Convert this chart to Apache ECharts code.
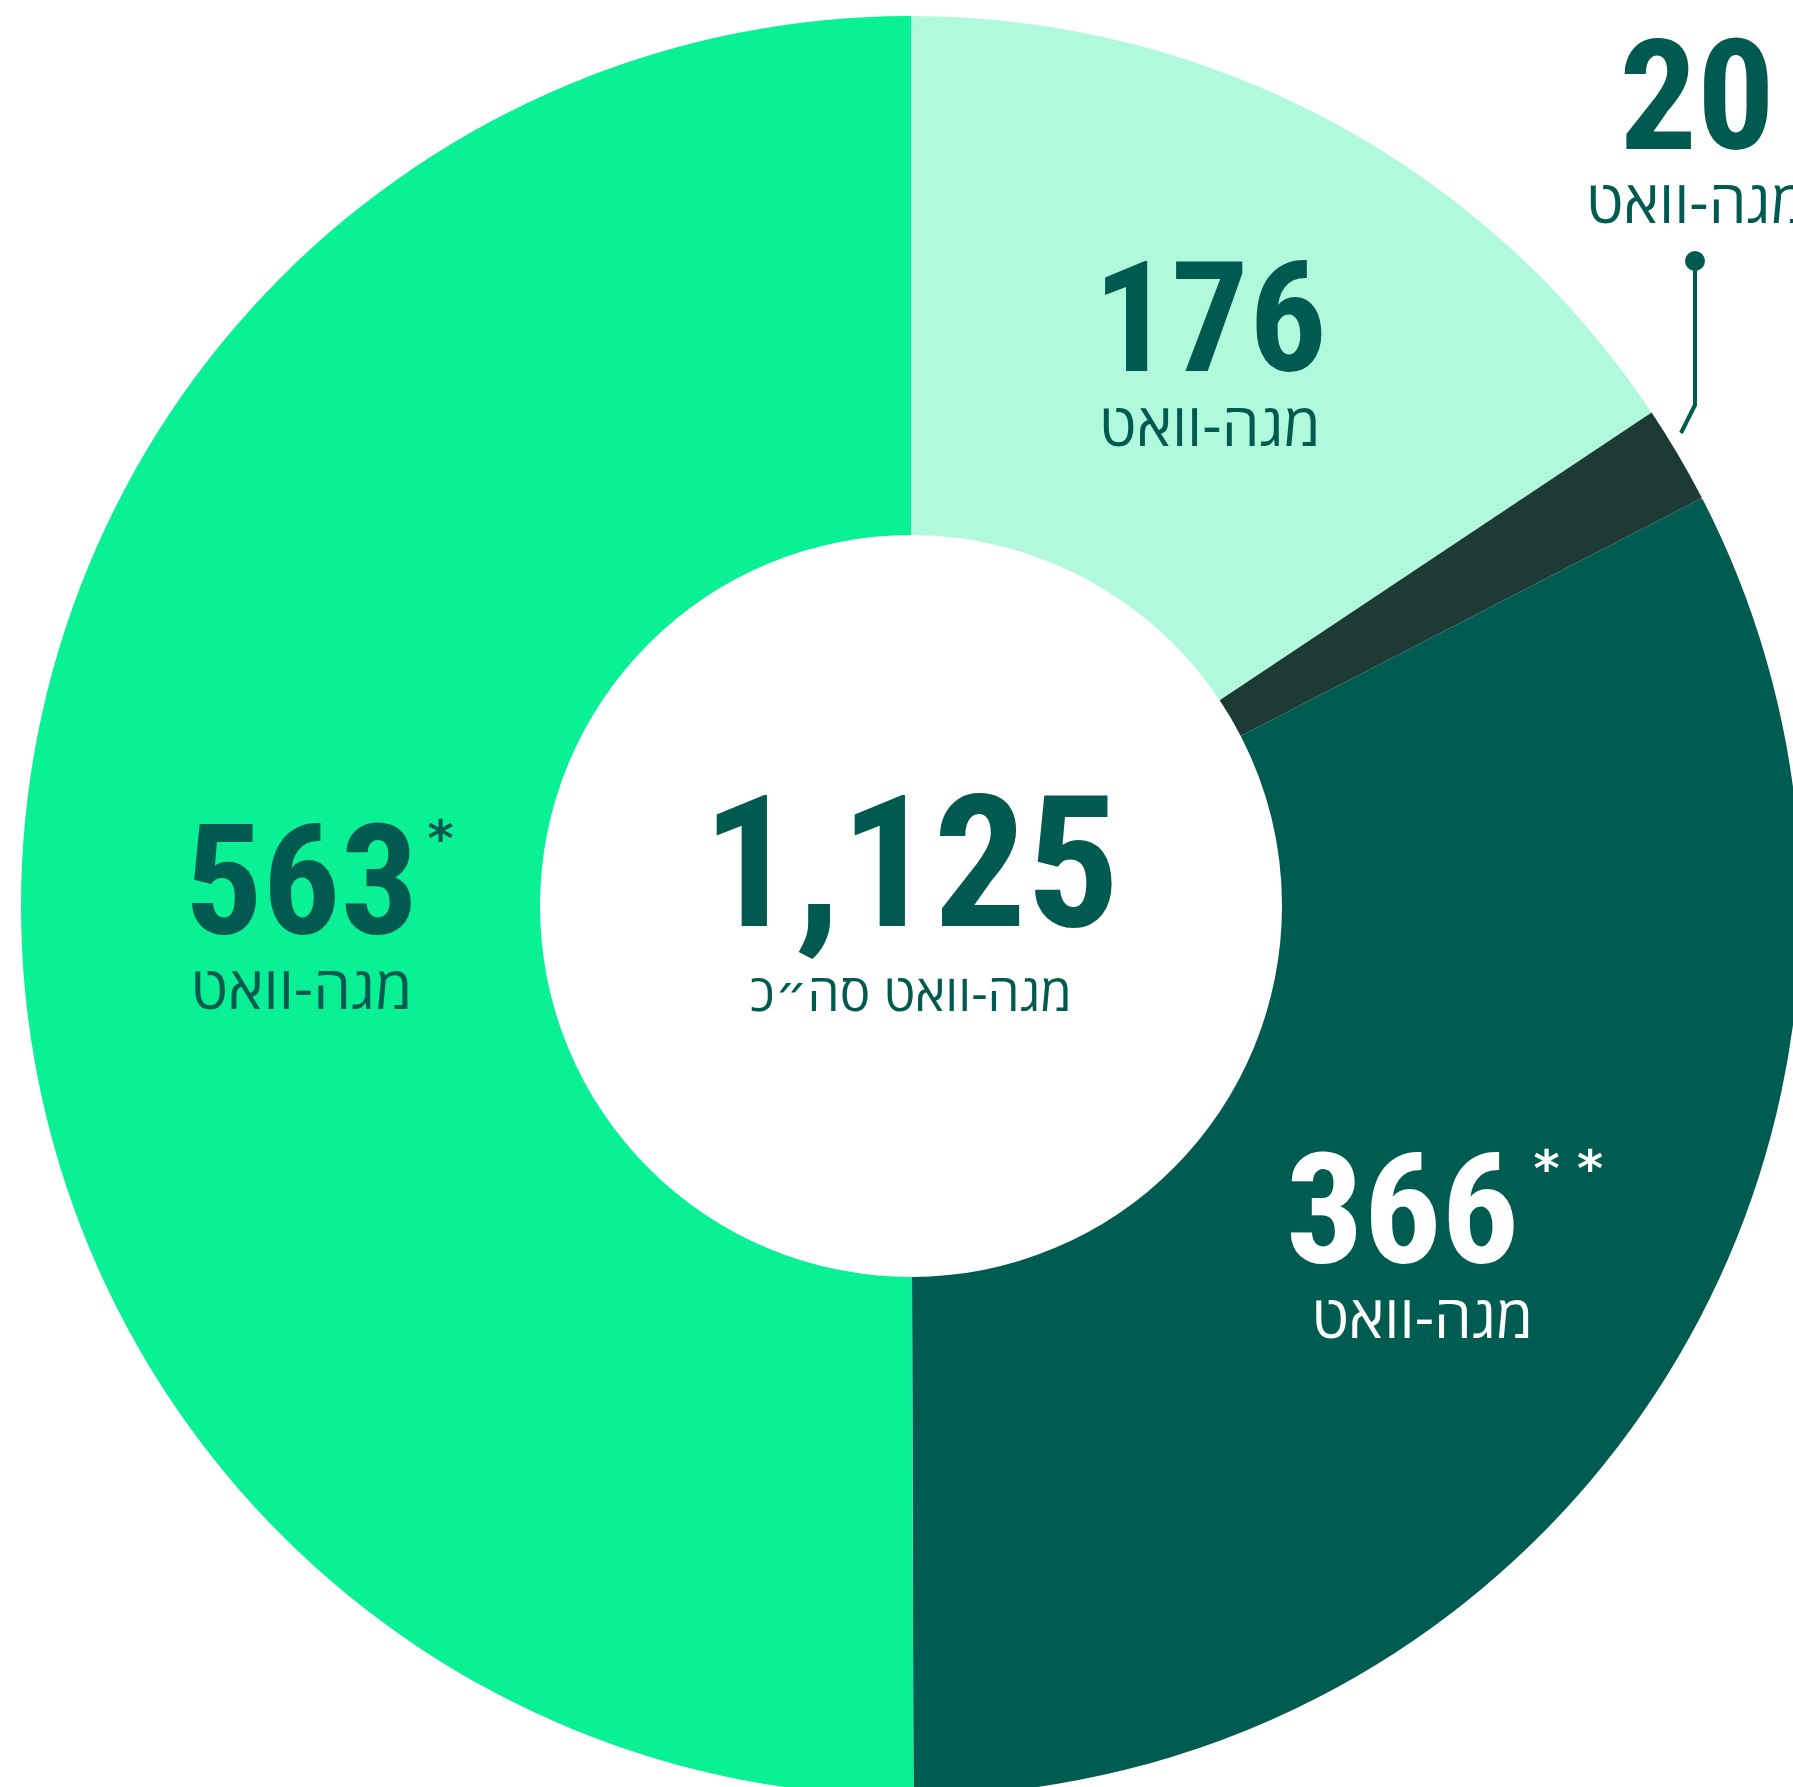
<!DOCTYPE html>
<html><head><meta charset="utf-8">
<script src="https://cdn.jsdelivr.net/npm/echarts@6/dist/echarts.min.js"></script>
<style>html,body{margin:0;padding:0;background:#fff}#c{width:1793px;height:1787px}</style>
</head><body><div id="c"></div>
<script>
// ---- data ----
const segmentIds = ['s1', 's2', 's3', 's4'];
const values = [176, 20, 366, 563];
const marks = ['', '', '**', '*'];
const unitText = 'מגה-וואט';
const totalText = 'מגה-וואט סה״כ';

// ---- style ----
const sliceColors = ['#b0f9dc', '#1d3a35', '#005c50', '#0af094'];
const labelColors = ['#005a4f', '#005a4f', '#ffffff', '#005a4f'];
const unitNudge = [false, false, true, false];
const ink = '#005a4f';
const numFont = '"Roboto Condensed", "DejaVu Sans Condensed", Roboto, sans-serif';
const hebFont = '"Open Sans", "DejaVu Sans", sans-serif';

const total = values.reduce((a, b) => a + b, 0);
const totalStr = total.toLocaleString('en-US');

const rich = {
  num: { fontFamily: numFont, fontSize: 154, fontWeight: 'bold', lineHeight: 130 },
  unit: { fontFamily: hebFont, fontSize: 60, lineHeight: 62 },
  upad: { width: 40 }
};

const data = values.map((v, i) => {
  const item = {
    name: segmentIds[i], value: v,
    itemStyle: { color: sliceColors[i] },
    label: { color: labelColors[i] }
  };
  if (i === 1) {
    item.label.position = 'outside';
    item.labelLine = { show: true, lineStyle: { color: ink, width: 4 } };
  }
  return item;
});

// footnote marks, laid out on the same slices
const markData = values.map((v, i) => ({
  name: segmentIds[i], value: v,
  itemStyle: { color: 'rgba(0,0,0,0)' },
  label: { show: !!marks[i], color: labelColors[i] }
}));

const chart = echarts.init(document.getElementById('c'), null, { renderer: 'canvas' });
chart.setOption({
  backgroundColor: '#ffffff',
  animation: false,
  series: [{
    type: 'pie',
    silent: true,
    center: [911, 906],
    radius: [371, 890],
    startAngle: 90,
    clockwise: true,
    avoidLabelOverlap: false,
    data: data,
    label: {
      show: true,
      position: 'inside',
      formatter: p => {
        const i = p.dataIndex;
        const upad = unitNudge[i] ? '{upad|}' : '';
        return `{num|${p.value}}\n${upad}{unit|${unitText}}`;
      },
      rich: rich
    },
    labelLayout: p => {
      const i = p.dataIndex;
      if (i === 1) {
        return { x: 1697, y: 141, align: 'center', verticalAlign: 'middle',
                 labelLinePoints: [[1681, 433], [1695, 405], [1695, 262]] };
      }
      if (i === 3) return { dx: 24, dy: 20 };
      if (i === 2) return { dx: -50, dy: 21 };
      return { dx: 0, dy: 16 };
    }
  }, {
    type: 'pie',
    silent: true,
    z: 3,
    center: [911, 906],
    radius: [371, 890],
    startAngle: 90,
    clockwise: true,
    avoidLabelOverlap: false,
    data: markData,
    label: {
      position: 'inside',
      fontFamily: 'DejaVu Sans', fontWeight: 'bold', fontSize: 50,
      formatter: p => marks[p.dataIndex].split('').join(' ')
    },
    labelLayout: p => {
      const i = p.dataIndex;
      if (i === 3) return { dx: 163, dy: -64 };
      if (i === 2) return { dx: 116, dy: -62 };
      return {};
    }
  }],
  graphic: [
    { type: 'circle', shape: { cx: 1695, cy: 261, r: 10 }, style: { fill: ink }, silent: true },
    { type: 'text', x: 911, y: 909, silent: true,
      style: {
        text: `{big|${totalStr}}\n{unit|${totalText}}`,
        align: 'center', verticalAlign: 'middle', textAlign: 'center', textVerticalAlign: 'middle',
        fill: ink,
        rich: {
          big: { fontFamily: numFont, fontSize: 184, fontWeight: 'bold', lineHeight: 175, fill: ink },
          unit: { fontFamily: hebFont, fontSize: 51, lineHeight: 58, fill: ink }
        }
      } }
  ]
});
</script>
</body></html>
